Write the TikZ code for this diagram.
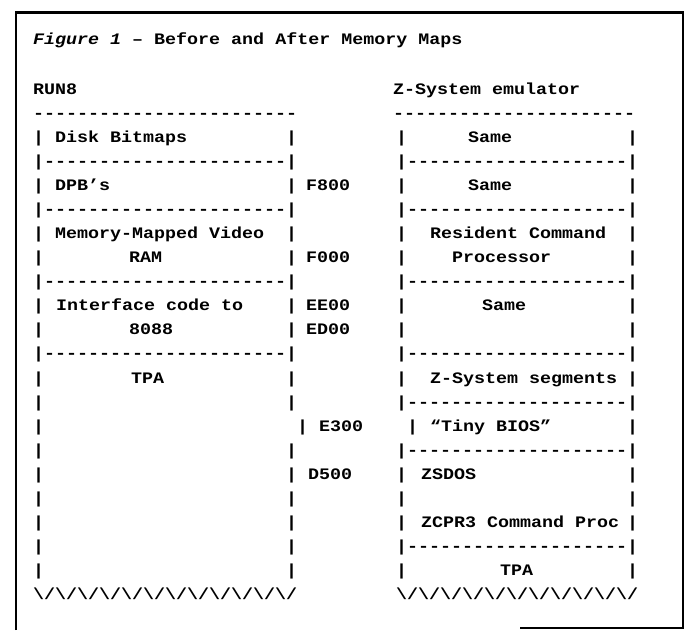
\documentclass[tikz,border=0pt]{standalone}
\usepackage{fontspec}
\setmonofont{Liberation Mono}[FakeStretch=1.146]
\newcommand\bsl{\textbackslash}
\begin{document}
\begin{tikzpicture}[x=1pt,y=-1pt,
  t/.style={inner sep=0pt, anchor=base west, font={\fontsize{16}{18}\ttfamily\bfseries}},
  frame/.style={line width=2.8pt}]
\useasboundingbox (0,0) rectangle (694,630);
% frame
\draw[frame] (16,630) -- (16,12.5) -- (683,12.5) -- (683,628) -- (520,628);
% title
\node[t] (title) at (33,44) {{\itshape Figure 1} – Before and After Memory Maps};
\node[t] (run8) at (33,94) {RUN8};
\node[t] (zsys) at (393,94) {Z-System emulator};
\node[t] (ltop) at (33,118) {------------------------};
\node[t] (rtop) at (393,118) {----------------------};
% left column
\foreach \r in {0,2,4,5,7,8,10,11,12,13,14,15,16,17,18}
  \node[t] (lb\r) at (33,{142+24.1*\r}) {|};
\foreach \r in {0,2,4,5,7,8,10,11,13,14,15,16,17,18}
  \node[t] (lr\r) at (286,{142+24.1*\r}) {|};
\foreach \r in {1,3,6,9}
  \node[t] (ls\r) at (33,{142+24.1*\r}) {|----------------------|};
\node[t] (disk) at (55,{142+24.1*0}) {Disk Bitmaps};
\node[t] (dpb)  at (55,{142+24.1*2}) {DPB’s};
\node[t] (mmv)  at (55,{142+24.1*4}) {Memory-Mapped Video};
\node[t] (ram)  at (129,{142+24.1*5}) {RAM};
\node[t] (ifc)  at (56,{142+24.1*7}) {Interface code to};
\node[t] (i8088) at (129,{142+24.1*8}) {8088};
\node[t] (ltpa) at (131,{142+24.1*10}) {TPA};
\node[t] (f800) at (306,{142+24.1*2}) {F800};
\node[t] (f000) at (306,{142+24.1*5}) {F000};
\node[t] (ee00) at (306,{142+24.1*7}) {EE00};
\node[t] (ed00) at (306,{142+24.1*8}) {ED00};
\node[t] (e3bar) at (297,{142+24.1*12}) {|};
\node[t] (e300) at (319,{142+24.1*12}) {E300};
\node[t] (d500) at (308,{142+24.1*14}) {D500};
\node[t] (lzig) at (33,{142+24.1*19}) {\bsl/\bsl/\bsl/\bsl/\bsl/\bsl/\bsl/\bsl/\bsl/\bsl/\bsl/\bsl/};
% right column
\foreach \r in {0,2,4,5,7,8,10,14,15,16,18}
  \node[t] (rb\r) at (396,{142+24.1*\r}) {|};
\foreach \r in {0,2,4,5,7,8,10,12,14,15,16,18}
  \node[t] (rr\r) at (627,{142+24.1*\r}) {|};
\foreach \r in {1,3,6,9,11,13,17}
  \node[t] (rs\r) at (396,{142+24.1*\r}) {|--------------------|};
\node[t] (same1) at (468,{142+24.1*0}) {Same};
\node[t] (same2) at (468,{142+24.1*2}) {Same};
\node[t] (rcp1)  at (430,{142+24.1*4}) {Resident Command};
\node[t] (rcp2)  at (452,{142+24.1*5}) {Processor};
\node[t] (same3) at (482,{142+24.1*7}) {Same};
\node[t] (zseg)  at (430,{142+24.1*10}) {Z-System segments};
\node[t] (tbbar) at (407,{142+24.1*12}) {|};
\node[t] (tbios) at (430,{142+24.1*12}) {“Tiny BIOS”};
\node[t] (zsdos) at (421,{142+24.1*14}) {ZSDOS};
\node[t] (zcpr)  at (421,{142+24.1*16}) {ZCPR3 Command Proc};
\node[t] (rtpa)  at (500,{142+24.1*18}) {TPA};
\node[t] (rzig) at (396,{142+24.1*19}) {\bsl/\bsl/\bsl/\bsl/\bsl/\bsl/\bsl/\bsl/\bsl/\bsl/\bsl/};
\end{tikzpicture}
\end{document}
